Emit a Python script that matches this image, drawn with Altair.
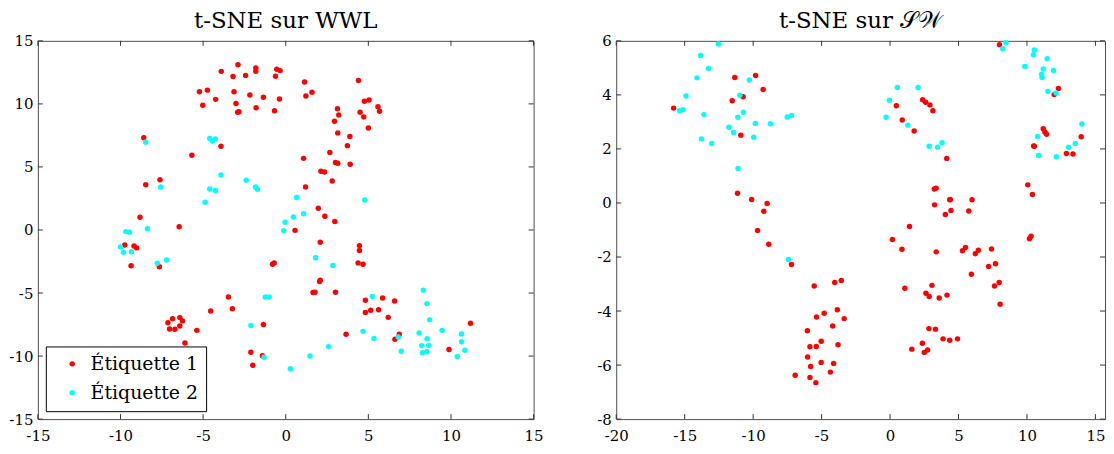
import altair as alt
import pandas as pd

LABELS = ["Étiquette 1", "Étiquette 2"]
COLORS = ["#ff0000", "#00ffff"]

# ---------------- left panel : t-SNE sur WWL ----------------
wwl_red_x = [-3.90, -2.89, -3.19, -2.43, -1.81, -1.81, -0.54, -0.34, -0.62, -5.22, -4.74, -4.24, -5.02,
             -3.13, -3.01, -2.91, -2.83, -2.17, -1.35, -1.79, -0.68, -0.38, -8.59, -3.92, -5.68, -7.61,
             -8.47, -8.82, -6.45,
             1.14, 1.22, 1.59, 4.40, 4.76, 5.04, 4.50, 4.72, 5.58, 5.68, 5.00, 3.13, 3.21, 2.95, 3.15,
             3.88, 3.73, 2.67, 1.08, 3.01, 3.15, 3.90, 2.13, 2.35, 2.81, 1.20, 1.97, 2.37, 2.97, 0.56,
             -9.74, -9.18, -9.02, -9.36, -7.65, -0.80, -0.70, -3.47, -3.23, -4.54, -7.13, -6.85, -6.41,
             -6.25, -7.03, -6.71, -6.41, -5.38, -6.10, -1.35, -2.11, -1.99, -1.41,
             2.09, 4.46, 4.46, 4.38, 4.68, 2.05, 2.09, 1.65, 1.77, 3.01, 4.82, 5.86, 6.59, 5.14, 4.82,
             5.62, 6.20, 3.65, 6.87, 6.61, 11.18, 9.88]
wwl_red_y = [12.58, 13.10, 12.17, 12.25, 12.84, 12.58, 12.74, 12.64, 12.20, 10.96, 11.09, 10.36, 9.90,
             10.96, 10.03, 9.33, 9.38, 10.70, 10.52, 9.69, 9.46, 10.39, 7.31, 6.64, 5.92, 3.98,
             3.59, 1.01, 0.26,
             11.73, 10.62, 10.93, 11.86, 10.21, 10.31, 9.33, 8.97, 9.77, 9.41, 8.09, 9.61, 9.12, 8.63, 7.70,
             7.42, 6.69, 6.15, 5.68, 5.35, 5.30, 5.22, 4.65, 4.60, 3.88, 3.41, 1.73, 1.09, 0.67, -0.03,
             -1.19, -1.27, -1.42, -2.84, -2.92, -2.71, -2.61, -5.32, -6.25, -6.43, -7.36, -7.03, -6.95,
             -7.21, -7.86, -7.88, -7.62, -7.96, -8.97, -7.49, -9.69, -10.72, -9.97,
             -0.98, -1.24, -1.63, -2.61, -2.71, -4.08, -3.98, -4.96, -4.94, -4.94, -5.58, -5.40, -5.63,
             -6.36, -6.54, -6.33, -6.93, -8.27, -8.27, -8.66, -7.39, -9.48]
wwl_cyan_x = [-8.47, -4.60, -4.44, -4.26, -3.92, -2.39, -1.83, -1.71, -4.60, -4.26, -4.88, -7.57, -8.37,
              -0.04, 0.66, 1.08, 0.46, 4.78, -0.12,
              -9.68, -9.46, -10.0, -9.82, -9.34, -7.77, -7.21, -1.24, -1.00, -2.11, -1.31,
              1.81, 2.85, 5.24, 8.33, 8.55, 8.71, 4.68, 5.34, 6.81, 6.99, 8.07, 8.55, 8.23, 8.65, 8.27,
              8.53, 9.46, 10.64, 10.64, 10.84, 10.38, 2.59, 1.47, 0.28]
wwl_cyan_y = [6.95, 7.26, 7.05, 7.21, 4.37, 3.95, 3.41, 3.23, 3.26, 3.13, 2.20, 3.41, 0.10,
              0.62, 2.58, 1.29, 1.03, 2.38, -0.05,
              -0.13, -0.18, -1.34, -1.76, -1.73, -2.64, -2.38, -5.32, -5.32, -7.57, -10.10,
              -2.20, -2.82, -5.27, -4.78, -5.84, -7.11, -8.04, -8.60, -8.48, -9.61, -8.17, -8.63, -9.17,
              -9.15, -9.74, -9.66, -7.96, -8.24, -8.86, -9.53, -10.03, -9.25, -10.0, -11.0]

# ---------------- right panel : t-SNE sur SW ----------------
sw_red_x = [-15.81, -11.34, -9.82, -9.27, -11.53, -10.73, -10.90, -11.14, -10.11, -8.98, -9.22, -9.68,
            7.99, 12.30, 11.99, 0.46, 0.89, 1.76, 2.38, 2.60, 2.91, 3.13, 4.14, 11.19, 11.31, 11.43,
            10.49, 10.54, 13.96, 12.88, 13.36, 3.23, 3.37, 4.36, 4.40, 5.99, 3.25, 4.45, 4.04, 5.75,
            1.42, 10.06, 10.40,
            -8.86, -7.20, -5.54, -4.04, -3.56, -3.85, -4.81, -5.37, -3.35, -4.19, -6.04, -5.03, -5.85,
            -5.39, -3.80, -6.02, -5.80, -5.03, -4.12, -4.36, -6.93, -5.85, -5.42,
            0.17, 0.87, 3.37, 5.29, 5.51, 6.23, 6.45, 7.41, 7.20, 7.70, 5.94, 7.63, 7.97, 8.04, 10.18,
            10.30, 1.08, 3.06, 2.62, 2.86, 3.59, 4.16, 2.84, 3.32, 3.87, 4.36, 4.93, 2.36, 1.59, 2.50, 2.74]
sw_red_y = [3.51, 4.64, 4.72, 4.20, 3.78, 3.93, 2.51, 0.36, 0.13, -0.02, -0.31, -1.02,
            5.86, 4.24, 4.01, 3.60, 3.07, 2.66, 3.82, 3.73, 3.63, 3.41, 1.65, 2.75, 2.63, 2.54,
            2.11, 2.10, 2.45, 1.83, 1.81, 0.52, 0.55, 0.12, 0.13, 0.12, -0.07, -0.28, -0.43, -0.30,
            -0.87, 0.67, 0.31,
            -1.53, -2.28, -3.07, -2.94, -2.87, -3.95, -4.08, -4.22, -4.28, -4.55, -4.73, -5.12, -5.32,
            -5.31, -5.25, -5.70, -6.05, -5.90, -5.94, -6.26, -6.38, -6.46, -6.65,
            -1.35, -1.71, -1.81, -1.77, -1.65, -1.88, -1.75, -1.70, -2.35, -2.25, -2.64, -3.07, -2.94,
            -3.75, -1.32, -1.23, -3.16, -3.05, -3.34, -3.46, -3.52, -3.41, -4.65, -4.67, -5.03, -5.08,
            -5.03, -5.19, -5.41, -5.53, -5.44]
sw_cyan_x = [-12.54, -13.84, -13.26, -14.10, -14.90, -15.38, -15.14, -13.60, -13.77, -13.02, -10.28,
             -10.97, -10.71, -11.12, -9.84, -8.74, -7.51, -7.20, -11.77, -11.43, -9.96, -11.10, -7.41,
             8.47, 8.23, 10.54, 10.47, 11.48, 9.84, 11.19, 11.07, 11.10, 11.94, 11.53, 12.13, 0.53,
             2.05, -0.05, -0.29, 1.30, 2.86, 3.47, 3.80, 14.01, 10.78, 13.53, 13.04, 10.85, 12.15]
sw_cyan_y = [5.88, 5.46, 4.98, 4.63, 3.96, 3.41, 3.45, 3.27, 2.37, 2.20, 4.55,
             3.99, 3.36, 3.17, 2.94, 2.93, 3.18, 3.24, 2.80, 2.61, 2.43, 1.28, -2.09,
             5.93, 5.71, 5.66, 5.49, 5.34, 5.05, 4.96, 4.76, 4.64, 4.90, 4.13, 4.07, 4.27,
             4.27, 3.80, 3.17, 2.88, 2.10, 2.06, 2.23, 2.92, 2.46, 2.20, 2.06, 1.76, 1.71]

wwl_xticks = [-15, -10, -5, 0, 5, 10, 15]
wwl_yticks = [-15, -10, -5, 0, 5, 10, 15]
sw_xticks = [-20, -15, -10, -5, 0, 5, 10, 15]
sw_yticks = [-8, -6, -4, -2, 0, 2, 4, 6]

FONT = "DejaVu Serif"
TICK_COLOR = "#333333"
TL = 5  # inward tick length
H = 380


def make_df(rx, ry, cx, cy):
    return pd.DataFrame({
        "x": list(rx) + list(cx),
        "y": list(ry) + list(cy),
        "label": [LABELS[0]] * len(rx) + [LABELS[1]] * len(cx),
    })


def panel(df, xdom, ydom, xticks, yticks, w, h, title, show_legend):
    xs = alt.Scale(domain=xdom, nice=False, zero=False)
    ys = alt.Scale(domain=ydom, nice=False, zero=False)
    if show_legend:
        legend = alt.Legend(title=None, orient="none", legendX=8, legendY=307,
                            strokeColor="black", fillColor="white", padding=8,
                            labelFont=FONT, labelFontSize=19, labelColor="black",
                            symbolType="circle", symbolSize=30, symbolStrokeWidth=0,
                            rowPadding=9, labelOffset=9, symbolOffset=9, cornerRadius=0)
    else:
        legend = None
    pts = alt.Chart(df).mark_circle(size=30, opacity=1).encode(
        x=alt.X("x:Q", scale=xs, title=None,
                axis=alt.Axis(values=xticks, labelExpr="'' + datum.value", ticks=False,
                              domain=False, grid=False,
                              labelFont=FONT, labelFontSize=15, labelColor="black",
                              labelPadding=9, labelFlush=False)),
        y=alt.Y("y:Q", scale=ys, title=None,
                axis=alt.Axis(values=yticks, labelExpr="'' + datum.value", ticks=False,
                              domain=False, grid=False,
                              labelFont=FONT, labelFontSize=15, labelColor="black",
                              labelPadding=5)),
        color=alt.Color("label:N", scale=alt.Scale(domain=LABELS, range=COLORS), legend=legend),
    )
    xt = pd.DataFrame({"v": xticks})
    yt = pd.DataFrame({"v": yticks})
    bot = alt.Chart(xt).mark_rule(color=TICK_COLOR, strokeWidth=1).encode(
        x=alt.X("v:Q", scale=xs), y=alt.value(h), y2=alt.value(h - TL))
    top = alt.Chart(xt).mark_rule(color=TICK_COLOR, strokeWidth=1).encode(
        x=alt.X("v:Q", scale=xs), y=alt.value(0), y2=alt.value(TL))
    left = alt.Chart(yt).mark_rule(color=TICK_COLOR, strokeWidth=1).encode(
        y=alt.Y("v:Q", scale=ys), x=alt.value(0), x2=alt.value(TL))
    right = alt.Chart(yt).mark_rule(color=TICK_COLOR, strokeWidth=1).encode(
        y=alt.Y("v:Q", scale=ys), x=alt.value(w), x2=alt.value(w - TL))
    return alt.layer(pts, bot, top, left, right).properties(
        width=w, height=h,
        title=alt.TitleParams(title, font=FONT, fontSize=23, fontWeight="normal",
                              color="black", anchor="middle", frame="group", offset=0.5),
    )


left_chart = panel(make_df(wwl_red_x, wwl_red_y, wwl_cyan_x, wwl_cyan_y),
                   [-15, 15], [-15, 15], wwl_xticks, wwl_yticks, 498, H,
                   "t-SNE sur WWL", True)
right_chart = panel(make_df(sw_red_x, sw_red_y, sw_cyan_x, sw_cyan_y),
                    [-20, 15.7], [-8, 6], sw_xticks, sw_yticks, 491, H,
                    "t-SNE sur 𝒮𝒲", False)

chart = alt.hconcat(left_chart, right_chart, spacing=51).resolve_scale(
    color="independent").resolve_legend(color="independent").properties(
    padding={"left": 0, "top": 1, "right": 0, "bottom": 0},
    background="white",
).configure_view(stroke="#4d4d4d", strokeWidth=1)

chart.save("out.html", embed_options={"renderer": "svg", "actions": False})
